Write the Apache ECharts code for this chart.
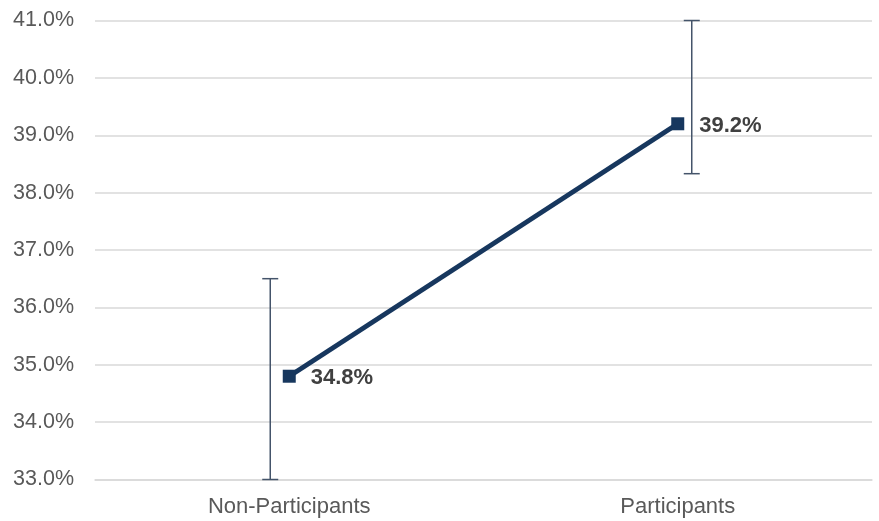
<!DOCTYPE html>
<html><head><meta charset="utf-8">
<script src="https://cdn.jsdelivr.net/npm/echarts@6/dist/echarts.min.js"></script>
<style>html,body{margin:0;padding:0;background:#fff}#c{width:879px;height:521px}</style>
</head><body><div id="c"></div>
<script>
var categories = ['Non-Participants', 'Participants'];
var values = [34.8, 39.2];
var errLow = [33.0, 38.33];
var errHigh = [36.5, 41.0];
var yTicks = [33, 34, 35, 36, 37, 38, 39, 40, 41];
var errOffsetPx = [-19, 14];

var chart = echarts.init(document.getElementById('c'), null, {renderer: 'canvas'});
var errData = categories.map(function (c, i) { return [i, errLow[i], errHigh[i]]; });
chart.setOption({
  animation: false,
  grid: {left: 95, right: 7, top: 20.5, bottom: 41.5, containLabel: false},
  xAxis: {
    type: 'category', data: categories, boundaryGap: true,
    axisLine: {show: true, lineStyle: {color: '#d9d9d9', width: 1.5}},
    axisTick: {show: false},
    axisLabel: {color: '#595959', fontSize: 22, fontFamily: 'Liberation Sans, Arial, sans-serif', margin: 16}
  },
  yAxis: {
    type: 'value', min: yTicks[0], max: yTicks[yTicks.length - 1], interval: 1,
    axisLine: {show: false}, axisTick: {show: false},
    splitLine: {lineStyle: {color: '#d9d9d9', width: 1.5}},
    axisLabel: {color: '#595959', fontSize: 21.5, fontFamily: 'Liberation Sans, Arial, sans-serif', margin: 21,
      formatter: function (v) { return v.toFixed(1) + '%'; }}
  },
  series: [
    {
      type: 'custom', z: 1,
      data: errData,
      renderItem: function (params, api) {
        var i = api.value(0);
        var lo = api.coord([i, api.value(1)]);
        var hi = api.coord([i, api.value(2)]);
        var x = lo[0] + errOffsetPx[params.dataIndex];
        var cap = 8;
        var st = {stroke: '#44546A', lineWidth: 1.5};
        return {type: 'group', children: [
          {type: 'line', shape: {x1: x, y1: lo[1], x2: x, y2: hi[1]}, style: st},
          {type: 'line', shape: {x1: x - cap, y1: lo[1], x2: x + cap, y2: lo[1]}, style: st},
          {type: 'line', shape: {x1: x - cap, y1: hi[1], x2: x + cap, y2: hi[1]}, style: st}
        ]};
      }
    },
    {
      type: 'line', z: 3, data: values,
      lineStyle: {color: '#17375E', width: 5},
      itemStyle: {color: '#17375E'},
      symbol: 'rect', symbolSize: 13,
      label: {show: true, position: 'right', distance: 15, offset: [0, 2], fontSize: 22, fontWeight: 'bold',
        color: '#404040', fontFamily: 'Liberation Sans, Arial, sans-serif',
        formatter: function (p) { return p.value.toFixed(1) + '%'; }}
    }
  ]
});
</script></body></html>
